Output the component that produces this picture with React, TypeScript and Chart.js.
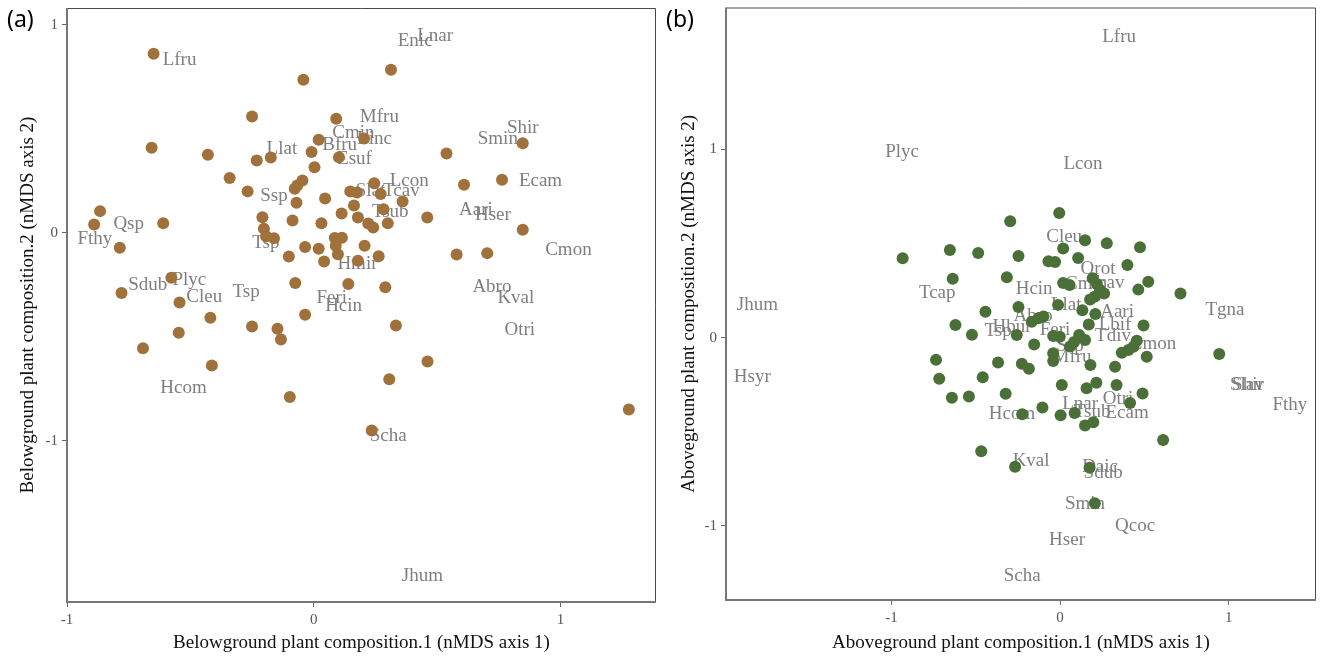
import React, { useEffect, useRef } from "react";
import { Chart, registerables } from "chart.js";

Chart.register(...registerables);

// ---------- Panel (a): belowground composition ----------
const BELOW_SITE_X = [
  -0.649, -0.042, 0.313, -0.25, 0.091, -0.657, -0.429, -0.231, -0.174, -0.009,
  0.02, 0.204, 0.102, 0.003, 0.538, 0.847, -0.341, -0.268, -0.046, -0.067,
  -0.077, -0.07, 0.046, 0.245, 0.148, 0.175, 0.271, 0.36, 0.609, 0.763,
  0.163, 0.113, 0.179, 0.283, 0.221, 0.241, 0.3, 0.46, 0.031, -0.086,
  -0.208, -0.202, -0.193, -0.161, -0.866, -0.89, -0.61, -0.786, -0.035, 0.02,
  0.085, 0.114, 0.089, 0.098, 0.206, -0.101, 0.042, 0.179, 0.263, 0.579,
  0.703, 0.847, -0.577, -0.779, -0.544, -0.075, 0.14, 0.29, -0.419, -0.035,
  0.333, -0.547, -0.25, -0.147, -0.133, -0.692, -0.413, -0.097, 0.461, 0.306,
  0.235, 1.277,
];
const BELOW_SITE_Y = [
  0.861, 0.736, 0.784, 0.559, 0.548, 0.409, 0.375, 0.348, 0.362, 0.388,
  0.447, 0.453, 0.363, 0.315, 0.381, 0.431, 0.263, 0.199, 0.251, 0.227,
  0.212, 0.144, 0.165, 0.238, 0.199, 0.194, 0.186, 0.15, 0.231, 0.255,
  0.131, 0.093, 0.073, 0.113, 0.045, 0.025, 0.046, 0.073, 0.046, 0.059,
  0.074, 0.019, -0.017, -0.026, 0.104, 0.04, 0.046, -0.072, -0.069, -0.077,
  -0.025, -0.024, -0.063, -0.103, -0.063, -0.114, -0.138, -0.135, -0.113, -0.105,
  -0.098, 0.014, -0.216, -0.29, -0.335, -0.242, -0.247, -0.262, -0.409, -0.394,
  -0.446, -0.481, -0.451, -0.462, -0.514, -0.555, -0.638, -0.79, -0.619, -0.705,
  -0.951, -0.85,
];
const BELOW_SPECIES = [
  "Lfru", "Llat", "Ssp", "Qsp", "Fthy", "Tsp", "Sdub", "Plyc", "Cleu", "Tsp",
  "Hcom", "Feri", "Hcin", "Hmir", "Tsub", "Aari", "Hser", "Cmon", "Abro", "Kval",
  "Otri", "Scha", "Jhum", "Ecam", "Smin", "Shir", "Lcon", "Slat", "Tcav", "Esuf",
  "Bfru", "Cmin", "Linc", "Mfru", "Enic", "Lnar",
];
const BELOW_SPECIES_X = [
  -0.544, -0.129, -0.161, -0.75, -0.887, -0.194, -0.673, -0.504, -0.444, -0.274,
  -0.528, 0.073, 0.121, 0.177, 0.31, 0.657, 0.726, 1.032, 0.722, 0.819,
  0.835, 0.302, 0.44, 0.919, 0.746, 0.847, 0.387, 0.23, 0.355, 0.165,
  0.105, 0.161, 0.246, 0.266, 0.411, 0.492,
];
const BELOW_SPECIES_Y = [
  0.833, 0.405, 0.175, 0.04, -0.032, -0.051, -0.249, -0.229, -0.311, -0.287,
  -0.749, -0.316, -0.35, -0.152, 0.098, 0.107, 0.083, -0.085, -0.263, -0.316,
  -0.47, -0.979, -1.652, 0.247, 0.449, 0.506, 0.247, 0.203, 0.199, 0.357,
  0.42, 0.482, 0.453, 0.559, 0.92, 0.944,
];

// ---------- Panel (b): aboveground composition ----------
const ABOVE_SITE_X = [
  -0.934, -0.654, -0.486, -0.637, -0.443, -0.621, -0.523, -0.736, -0.717, -0.459,
  -0.368, -0.642, -0.541, -0.468, -0.005, -0.296, -0.247, 0.018, 0.148, 0.277,
  0.474, -0.069, -0.03, 0.107, 0.399, -0.316, 0.018, 0.056, 0.193, 0.218,
  0.523, 0.464, 0.714, 0.237, 0.261, 0.178, 0.207, -0.247, -0.012, 0.132,
  0.209, 0.495, -0.168, -0.129, -0.099, 0.17, -0.257, -0.154, -0.041, -0.002,
  0.059, 0.083, 0.113, 0.148, 0.366, 0.405, 0.435, 0.455, 0.514, -0.041,
  -0.041, 0.18, 0.326, -0.227, -0.185, 0.01, 0.157, 0.215, 0.335, 0.489,
  -0.323, -0.105, -0.225, 0.003, 0.086, 0.415, 0.148, 0.197, 0.611, 0.944,
  -0.267, 0.175, 0.206,
];
const ABOVE_SITE_Y = [
  0.422, 0.466, 0.45, 0.313, 0.138, 0.067, 0.016, -0.118, -0.218, -0.21,
  -0.132, -0.319, -0.313, -0.603, 0.662, 0.618, 0.434, 0.473, 0.517, 0.501,
  0.48, 0.406, 0.402, 0.423, 0.386, 0.321, 0.29, 0.28, 0.315, 0.285,
  0.297, 0.255, 0.234, 0.253, 0.235, 0.203, 0.218, 0.163, 0.174, 0.146,
  0.126, 0.065, 0.085, 0.103, 0.112, 0.07, 0.014, -0.036, 0.009, 0.005,
  -0.047, -0.023, 0.014, -0.012, -0.08, -0.065, -0.048, -0.016, -0.101, -0.083,
  -0.124, -0.145, -0.154, -0.138, -0.165, -0.251, -0.269, -0.239, -0.251, -0.297,
  -0.298, -0.371, -0.407, -0.412, -0.4, -0.347, -0.466, -0.449, -0.543, -0.087,
  -0.685, -0.691, -0.879,
];
const ABOVE_SPECIES = [
  "Lfru", "Plyc", "Lcon", "Jhum", "Hsyr", "Tcap", "Cleu", "Orot", "Cmin", "Tcav",
  "Hcin", "Llat", "Aari", "Abro", "Tsp", "Hbur", "Feri", "Lbif", "Tdiv", "Cmon",
  "Ssp", "Mfru", "Lnar", "Otri", "Tsub", "Ecam", "Hcom", "Kval", "Daic", "Sdub",
  "Smin", "Qcoc", "Hser", "Scha", "Tgna", "Slav", "Shir", "Fthy",
];
const ABOVE_SPECIES_X = [
  0.35, -0.937, 0.136, -1.796, -1.826, -0.729, 0.024, 0.225, 0.154, 0.273,
  -0.154, 0.036, 0.338, -0.16, -0.368, -0.285, -0.03, 0.326, 0.314, 0.551,
  0.059, 0.071, 0.119, 0.344, 0.19, 0.397, -0.285, -0.172, 0.237, 0.255,
  0.148, 0.445, 0.041, -0.225, 0.978, 1.108, 1.114, 1.363,
];
const ABOVE_SPECIES_Y = [
  1.597, 0.986, 0.922, 0.174, -0.209, 0.237, 0.535, 0.365, 0.285, 0.29,
  0.259, 0.174, 0.136, 0.115, 0.036, 0.057, 0.041, 0.067, 0.009, -0.033,
  -0.044, -0.102, -0.352, -0.326, -0.395, -0.4, -0.405, -0.655, -0.687, -0.718,
  -0.882, -0.999, -1.074, -1.265, 0.147, -0.251, -0.251, -0.357,
];

const AXIS_TICKS = [-1, 0, 1];

const SERIF = '"Liberation Serif", "Times New Roman", serif';

type PanelSpec = {
  left: number;
  width: number;
  xMin: number;
  xMax: number;
  yMin: number;
  yMax: number;
  padRight: number;
  padTop: number;
  yAxisWidth: number;
  xAxisHeight: number;
  yTitlePad: number;
  color: string;
  xTitle: string;
  yTitle: string;
  siteX: number[];
  siteY: number[];
  names: string[];
  nameX: number[];
  nameY: number[];
};

const PANELS: PanelSpec[] = [
  {
    left: 0,
    width: 662,
    xMin: -1,
    xMax: 1.387,
    yMin: -1.776,
    yMax: 1.081,
    padRight: 4,
    padTop: 8,
    yAxisWidth: 67,
    xAxisHeight: 54,
    yTitlePad: 16.6,
    color: "#A0713A",
    xTitle: "Belowground plant composition.1 (nMDS axis 1)",
    yTitle: "Belowground plant composition.2 (nMDS axis 2)",
    siteX: BELOW_SITE_X,
    siteY: BELOW_SITE_Y,
    names: BELOW_SPECIES,
    nameX: BELOW_SPECIES_X,
    nameY: BELOW_SPECIES_Y,
  },
  {
    left: 662,
    width: 660,
    xMin: -1.982,
    xMax: 1.518,
    yMin: -1.393,
    yMax: 1.753,
    padRight: 6,
    padTop: 7.5,
    yAxisWidth: 64,
    xAxisHeight: 56,
    yTitlePad: 15.6,
    color: "#4A7038",
    xTitle: "Aboveground plant composition.1 (nMDS axis 1)",
    yTitle: "Aboveground plant composition.2 (nMDS axis 2)",
    siteX: ABOVE_SITE_X,
    siteY: ABOVE_SITE_Y,
    names: ABOVE_SPECIES,
    nameX: ABOVE_SPECIES_X,
    nameY: ABOVE_SPECIES_Y,
  },
];

function buildChart(canvas: HTMLCanvasElement, p: PanelSpec) {
  const labelPlugin = {
    id: "speciesLabels",
    beforeDatasetsDraw(chart: any) {
      const { ctx, scales } = chart;
      ctx.save();
      ctx.font = `19px ${SERIF}`;
      ctx.fillStyle = "#7f7f7f";
      ctx.textAlign = "center";
      ctx.textBaseline = "middle";
      p.names.forEach((n, i) => {
        ctx.fillText(n, scales.x.getPixelForValue(p.nameX[i]), scales.y.getPixelForValue(p.nameY[i]));
      });
      ctx.restore();
    },
  };
  const framePlugin = {
    id: "frame",
    afterDatasetsDraw(chart: any) {
      const { ctx, chartArea } = chart;
      const { left, right, top, bottom } = chartArea;
      ctx.save();
      ctx.strokeStyle = "#4a4a4a";
      ctx.lineWidth = 1;
      ctx.beginPath();
      ctx.moveTo(left, top + 0.5);
      ctx.lineTo(right - 0.5, top + 0.5);
      ctx.lineTo(right - 0.5, bottom);
      ctx.stroke();
      ctx.strokeStyle = "#777777";
      ctx.lineWidth = 2;
      ctx.beginPath();
      ctx.moveTo(left, top);
      ctx.lineTo(left, bottom);
      ctx.lineTo(right, bottom);
      ctx.stroke();
      ctx.restore();
    },
  };

  const tickCfg = {
    color: "#555555",
    font: { family: SERIF, size: 15 },
    padding: 4,
    callback: (v: any) => String(v),
  };
  const gridCfg = {
    display: true,
    drawOnChartArea: false,
    drawTicks: true,
    tickLength: 5,
    color: "#666666",
    lineWidth: 1,
  };

  return new Chart(canvas, {
    type: "scatter",
    data: {
      datasets: [
        {
          data: p.siteX.map((x, i) => ({ x, y: p.siteY[i] })),
          backgroundColor: p.color,
          borderColor: p.color,
          borderWidth: 0,
          pointRadius: 6,
          pointHoverRadius: 6,
        },
      ],
    },
    options: {
      responsive: false,
      animation: false,
      events: [],
      layout: { padding: { left: 0, right: p.padRight, top: p.padTop, bottom: 0 } },
      plugins: { legend: { display: false }, tooltip: { enabled: false } },
      scales: {
        x: {
          type: "linear",
          min: p.xMin,
          max: p.xMax,
          afterBuildTicks: (s: any) => {
            s.ticks = AXIS_TICKS.map((v) => ({ value: v }));
          },
          afterFit: (s: any) => {
            s.height = p.xAxisHeight;
            s.paddingLeft = 0;
            s.paddingRight = 0;
            s.paddingTop = 0;
            s.paddingBottom = 0;
          },
          ticks: tickCfg,
          grid: gridCfg,
          border: { display: false },
          title: {
            display: true,
            text: p.xTitle,
            color: "#111111",
            font: { family: SERIF, size: 19 },
            padding: { top: 2, bottom: 1.6 },
          },
        },
        y: {
          type: "linear",
          min: p.yMin,
          max: p.yMax,
          afterBuildTicks: (s: any) => {
            s.ticks = AXIS_TICKS.map((v) => ({ value: v }));
          },
          afterFit: (s: any) => {
            s.width = p.yAxisWidth;
            s.paddingLeft = 0;
            s.paddingRight = 0;
            s.paddingTop = 0;
            s.paddingBottom = 0;
          },
          ticks: tickCfg,
          grid: gridCfg,
          border: { display: false },
          title: {
            display: true,
            text: p.yTitle,
            color: "#111111",
            font: { family: SERIF, size: 19 },
            padding: { top: p.yTitlePad, bottom: 2 },
          },
        },
      },
    },
    plugins: [labelPlugin, framePlugin],
  } as any);
}

function Panel({ spec }: { spec: PanelSpec }) {
  const ref = useRef<HTMLCanvasElement | null>(null);
  useEffect(() => {
    if (!ref.current) return;
    const chart = buildChart(ref.current, spec);
    return () => chart.destroy();
  }, [spec]);
  return (
    <canvas
      ref={ref}
      width={spec.width}
      height={656}
      style={{ position: "absolute", left: spec.left, top: 0, width: spec.width, height: 656 }}
    />
  );
}

const PANEL_TAGS = ["(a)", "(b)"];

export default function App() {
  return (
    <div
      style={{
        position: "absolute",
        left: 0,
        top: 0,
        width: 1322,
        height: 656,
        background: "#ffffff",
        overflow: "hidden",
      }}
    >
      {PANELS.map((p, i) => (
        <Panel key={i} spec={p} />
      ))}
      {PANEL_TAGS.map((t, i) => (
        <div
          key={t}
          style={{
            position: "absolute",
            left: i === 0 ? 7 : 666,
            top: 7,
            fontFamily: '"Noto Sans", "Open Sans", sans-serif',
            fontSize: 23,
            lineHeight: 1,
            color: "#000",
          }}
        >
          {t}
        </div>
      ))}
    </div>
  );
}
